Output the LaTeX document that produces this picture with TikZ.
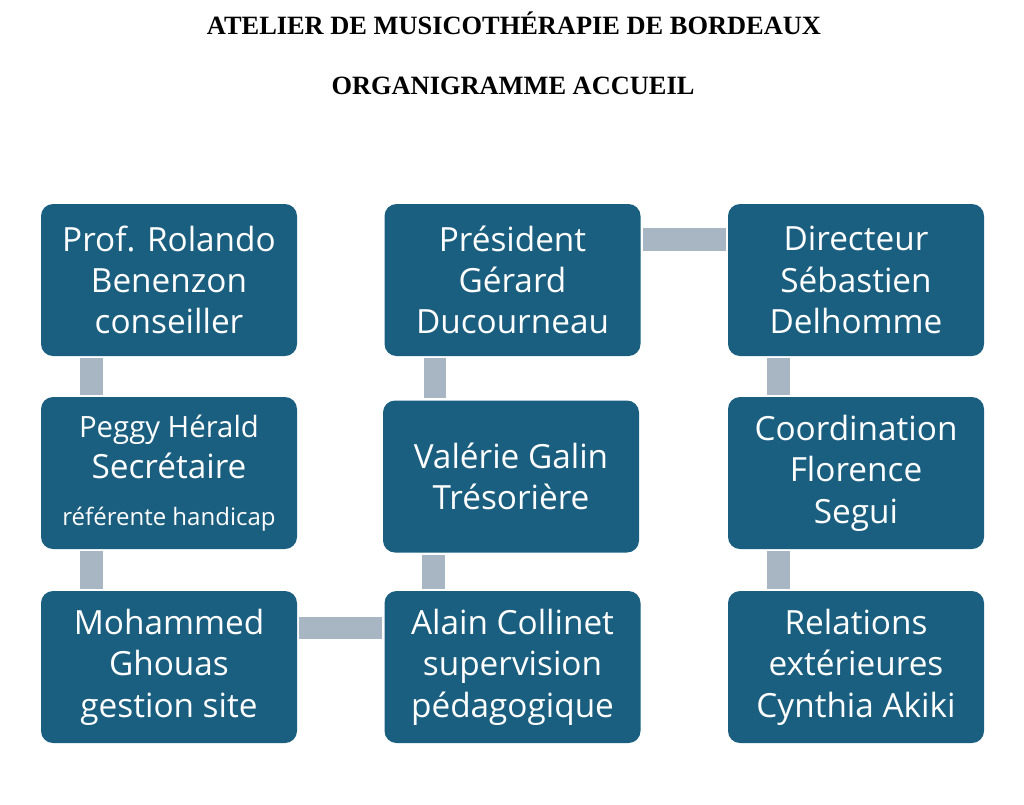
\documentclass[tikz,border=0pt]{standalone}
\usepackage{fontspec}
\setmainfont{Open Sans}
\newfontfamily\titlefont{Liberation Serif}
\definecolor{BoxBlue}{HTML}{1A5E80}
\definecolor{LinkGray}{HTML}{A8B5C3}

\begin{document}
\begin{tikzpicture}[x=0.75pt, y=-0.75pt,
  every node/.style={font=\fontsize{25}{31}\selectfont},
  box/.style={fill=BoxBlue, text=white, rounded corners=9pt, minimum width=192pt, minimum height=114pt, align=center, inner sep=0pt},
  title/.style={font=\titlefont\bfseries\fontsize{19.8}{23}\selectfont, anchor=base},
  link/.style={draw=LinkGray, line width=17pt, shorten <=1.5pt, shorten >=1.5pt}]
\useasboundingbox (0,0) rectangle (1024,804);

% Title
\node[title] (atelier) at (514,34) {ATELIER DE MUSICOTHÉRAPIE DE BORDEAUX};
\node[title] (organigramme) at (513,94) {ORGANIGRAMME ACCUEIL};

% Left column
\node[box] (prof) at (169,280) {Prof. Rolando\\Benenzon\\conseiller};
\node[box] (peggy) at (169,473) {\fontsize{22}{26}\selectfont Peggy Hérald\\Secrétaire\\[4pt]\fontsize{18}{22}\selectfont référente handicap};
\node[box] (mohammed) at (169,667) {Mohammed\\Ghouas\\gestion site};

% Middle column
\node[box] (president) at (512.5,280) {Président\\Gérard\\Ducourneau};
\node[box] (valerie) at (511,476.5) {Valérie Galin\\Trésorière};
\node[box] (alain) at (512.5,667) {Alain Collinet\\supervision\\pédagogique};

% Right column
\node[box] (directeur) at (856,280) {Directeur\\Sébastien\\Delhomme};
\node[box] (coordination) at (856,473) {Coordination\\Florence\\Segui};
\node[box] (relations) at (856,667) {Relations\\extérieures\\Cynthia Akiki};

% Links
\foreach \a/\b in {prof/peggy, peggy/mohammed, president/valerie, valerie/alain, directeur/coordination, coordination/relations} {
  \draw[link] ([xshift=38pt]\a.south west) -- ([xshift=38pt]\a.south west |- \b.north);
}
\draw[link] ([yshift=-27pt]president.north east) -- ([yshift=-27pt]president.north east -| directeur.west);
\draw[link] ([yshift=-28pt]mohammed.north east) -- ([yshift=-28pt]mohammed.north east -| alain.west);
\end{tikzpicture}
\end{document}
